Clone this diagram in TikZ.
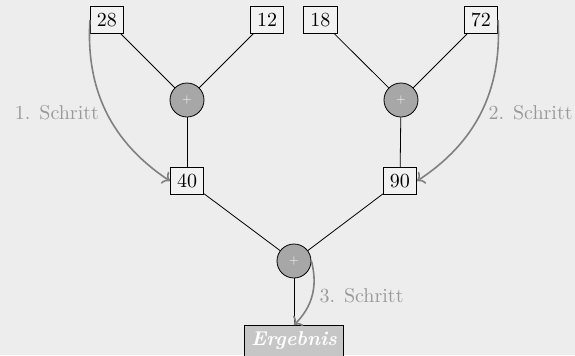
\documentclass[tikz,border=0pt]{standalone}
\usetikzlibrary{arrows.meta}
\definecolor{bgcol}{HTML}{EDEDED}
\definecolor{opcol}{HTML}{A7A7A7}
\definecolor{rescol}{HTML}{C6C6C6}
\definecolor{stepcol}{HTML}{808080}
\definecolor{labcol}{HTML}{999999}
\begin{document}
\begin{tikzpicture}[x=0.5pt, y=-0.5pt,
  numbox/.style={draw, fill=white!30!bgcol, inner sep=3.33pt},
  opnode/.style={circle, draw, fill=opcol, minimum size=17pt, inner sep=0pt,
    font=\tiny, text=white!85!opcol},
  resbox/.style={draw, fill=rescol, inner sep=3.33pt, text=white,
    font=\bfseries\itshape},
  stepline/.style={->, thick, draw=stepcol},
  steplabel/.style={text=labcol},
  link/.style={draw, line width=0.4pt}]
  \fill[bgcol] (0,0) rectangle (575,355);
  \useasboundingbox (0,0) rectangle (575,355);

  % operands
  \node[numbox] (a) at (107,20) {28};
  \node[numbox] (b) at (267,20) {12};
  \node[numbox] (c) at (320.5,20) {18};
  \node[numbox] (d) at (481,20) {72};

  % additions
  \node[opnode] (p1) at (187,100) {+};
  \node[opnode] (p2) at (401,100) {+};
  \node[numbox] (s1) at (187,181) {40};
  \node[numbox] (s2) at (400,181) {90};
  \node[opnode] (p3) at (294,261) {+};
  \node[resbox, anchor=north] (r) at (294,325) {Ergebnis};

  % tree edges
  \draw[link] (a) -- (p1);
  \draw[link] (b) -- (p1);
  \draw[link] (p1) -- (s1);
  \draw[link] (c) -- (p2);
  \draw[link] (d) -- (p2);
  \draw[link] (p2) -- (s2);
  \draw[link] (s1) -- (p3);
  \draw[link] (s2) -- (p3);
  \draw[link] (p3) -- (r);

  % computation steps
  \draw[stepline] (a.west) to[bend right=30]
    node[midway, left, steplabel] {1. Schritt} (s1.west);
  \draw[stepline] (d.east) to[bend left=30]
    node[midway, right, steplabel] {2. Schritt} (s2.east);
  \draw[stepline] (p3.east) to[bend left=30]
    node[midway, right, steplabel] {3. Schritt} (r.north);
\end{tikzpicture}
\end{document}
